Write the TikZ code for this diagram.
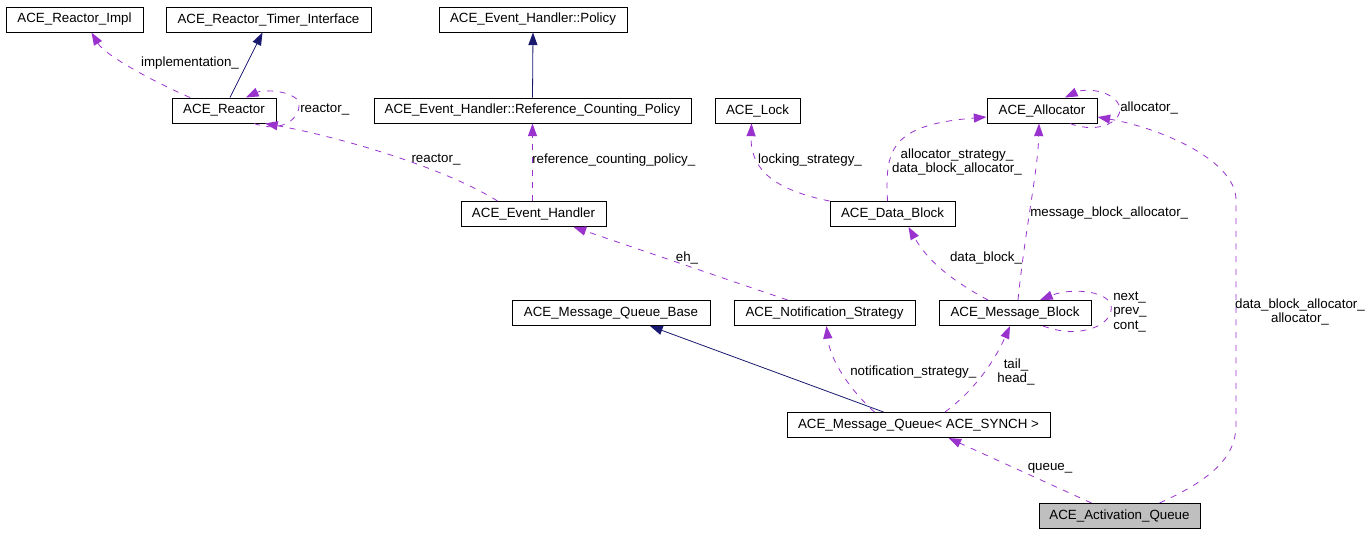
\documentclass[tikz,border=0pt]{standalone}
\usepackage{fontspec}
\setmainfont{Liberation Sans}
\usetikzlibrary{arrows.meta,calc}
\definecolor{dep}{HTML}{9A32CD}
\definecolor{inhc}{HTML}{191970}
\definecolor{boxfill}{HTML}{BFBFBF}
\begin{document}
\begin{tikzpicture}[x=0.75pt,y=-0.75pt,
  box/.style={draw=black, line width=0.75pt, minimum height=18.75pt, inner sep=0pt, font=\fontsize{10}{11}\selectfont},
  lbl/.style={inner sep=0pt, font=\fontsize{10}{11}\selectfont, align=center},
  lbll/.style={inner sep=0pt, font=\fontsize{10}{11}\selectfont, align=left, anchor=west},
  dep/.style={draw=dep, line width=0.6pt, dash pattern=on 4.5pt off 5pt, -{Triangle[length=9.5pt,width=7pt,fill=dep,line width=0pt]}},
  inh/.style={draw=inhc, line width=0.6pt, -{Triangle[length=9.5pt,width=7pt,fill=inhc,line width=0pt]}}]
\useasboundingbox (0,0) rectangle (1371,533);
% boxes
\node[box, minimum width=137*0.75pt] (impl) at (74.5,19.5) {ACE\_Reactor\_Impl};
\node[box, minimum width=205*0.75pt] (timer) at (268.5,19.5) {ACE\_Reactor\_Timer\_Interface};
\node[box, minimum width=188*0.75pt] (policy) at (533,19.5) {ACE\_Event\_Handler::Policy};
\node[box, minimum width=104*0.75pt] (reactor) at (224,110.5) {ACE\_Reactor};
\node[box, minimum width=317*0.75pt] (rcp) at (532.5,110.5) {ACE\_Event\_Handler::Reference\_Counting\_Policy};
\node[box, minimum width=85*0.75pt] (lock) at (757.5,110.5) {ACE\_Lock};
\node[box, minimum width=110*0.75pt] (alloc) at (1042,110.5) {ACE\_Allocator};
\node[box, minimum width=145*0.75pt] (evh) at (533.5,214) {ACE\_Event\_Handler};
\node[box, minimum width=125*0.75pt] (datab) at (892.5,214) {ACE\_Data\_Block};
\node[box, minimum width=198*0.75pt] (mqb) at (611,313) {ACE\_Message\_Queue\_Base};
\node[box, minimum width=181*0.75pt] (notif) at (824.5,313) {ACE\_Notification\_Strategy};
\node[box, minimum width=152*0.75pt] (mb) at (1015,313) {ACE\_Message\_Block};
\node[box, minimum width=263*0.75pt] (mq) at (918.5,425) {ACE\_Message\_Queue< ACE\_SYNCH >};
\node[box, minimum width=161*0.75pt, fill=boxfill] (aq) at (1119.5,516) {ACE\_Activation\_Queue};
% edges
\draw[dep] ($(reactor.north)+(-34,0)$) .. controls (150,80) and (105,55) .. ($(impl.south)+(17,0)$);
\draw[inh] ($(reactor.north)+(6,0)$) -- ($(timer.south)+(-6,0)$);
\draw[dep] ($(reactor.south)+(30,0)$) .. controls (292,137) and (308,105) .. (294,97) .. controls (284,90) and (262,90) .. ($(reactor.north)+(22,0)$);
\draw[dep] ($(evh.north)+(-36,0)$) .. controls (440,165) and (330,135) .. ($(reactor.south)+(41,0)$);
\draw[dep] ($(evh.north)+(-1,0)$) -- (rcp.south);
\draw[inh] (rcp.north) -- (policy.south);
\draw[dep] ($(notif.north)+(-37,0)$) -- ($(evh.south)+(40,0)$);
\draw[dep] (datab.north west) .. controls (775,190) and (750,170) .. ($(lock.south)+(-6,0)$);
\draw[dep] ($(datab.north)+(-5,0)$) .. controls (885,150) and (890,125) .. ($(alloc.west)+(0,6.5)$);
\draw[dep] ($(mb.north)+(3,0)$) .. controls (1025,230) and (1038,170) .. ($(alloc.south)+(-3,0)$);
\draw[dep] ($(mb.north)+(-27,0)$) .. controls (960,285) and (930,265) .. ($(datab.south)+(16,0)$);
\draw[dep] ($(mb.south)+(28,0)$) .. controls (1080,340) and (1115,325) .. (1111,305) .. controls (1106,290) and (1070,288) .. ($(mb.north)+(25,0)$);
\draw[dep] ($(alloc.south)+(28,0)$) .. controls (1100,135) and (1125,120) .. (1119,105) .. controls (1112,90) and (1085,88) .. ($(alloc.north)+(23,0)$);
\draw[dep] ($(aq.north)+(40,0)$) .. controls (1215,478) and (1236,455) .. (1236,425) -- (1236,200) .. controls (1236,160) and (1160,128) .. ($(alloc.east)+(0,6.5)$);
\draw[dep] ($(aq.north)+(-28,0)$) -- ($(mq.south)+(30,0)$);
\draw[inh] ($(mq.north)+(-35,0)$) -- ($(mqb.south)+(39,0)$);
\draw[dep] ($(mq.north)+(-44,0)$) .. controls (850,390) and (830,360) .. ($(notif.south)+(2,0)$);
\draw[dep] ($(mq.north)+(26.5,0)$) .. controls (975,390) and (995,360) .. ($(mb.south)+(-5,0)$);
% labels
\node[lbl] (l1) at (190,63) {implementation\_};
\node[lbll] (l2) at (300,110) {reactor\_};
\node[lbl] (l3) at (436,160) {reactor\_};
\node[lbll] (l4) at (532,160) {reference\_counting\_policy\_};
\node[lbl] (l5) at (810,160) {locking\_strategy\_};
\node[lbl] (l6) at (957,162) {allocator\_strategy\_\\data\_block\_allocator\_};
\node[lbll] (l7) at (1120,108) {allocator\_};
\node[lbll] (l8) at (1030,213) {message\_block\_allocator\_};
\node[lbl] (l9) at (986,258) {data\_block\_};
\node[lbl] (l10) at (687,258) {eh\_};
\node[lbll] (l11) at (1113,312) {next\_\\prev\_\\cont\_};
\node[lbl] (l12) at (1300,312) {data\_block\_allocator\_\\allocator\_};
\node[lbll] (l13) at (850,372) {notification\_strategy\_};
\node[lbl] (l14) at (1016,372) {tail\_\\head\_};
\node[lbl] (l15) at (1050,468) {queue\_};
\end{tikzpicture}
\end{document}
